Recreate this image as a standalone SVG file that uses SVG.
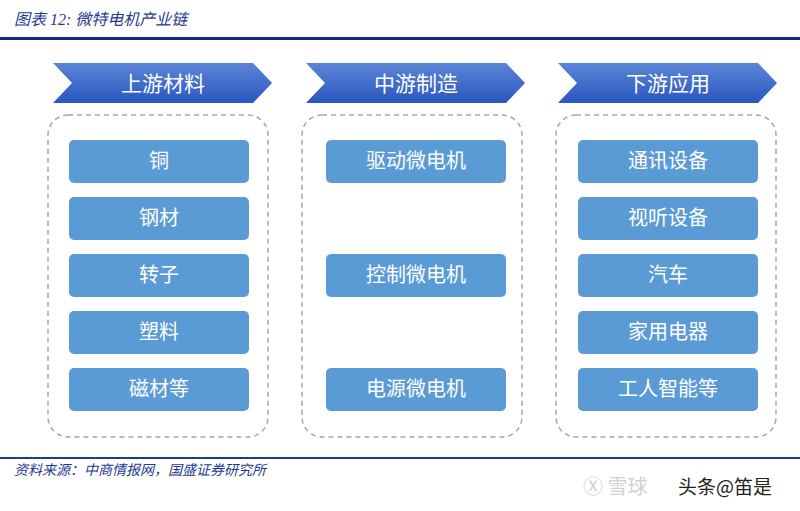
<svg xmlns="http://www.w3.org/2000/svg" width="800" height="511" viewBox="0 0 800 511">
<defs>
<linearGradient id="g" x1="0" y1="0" x2="0" y2="1"><stop offset="0" stop-color="#5b86d6"/><stop offset="1" stop-color="#2a56c0"/></linearGradient>
<style>
.t{font-family:"Noto Sans CJK SC",sans-serif;}
.hd{fill:url(#g);}
.hdt{fill:#fff;font-size:21px;text-anchor:middle;font-family:"Noto Sans CJK SC",sans-serif;}
.dash{fill:none;stroke:#a6a6a6;stroke-width:1.5;stroke-dasharray:5,4;}
.box{fill:#5b9bd5;}
.bt{fill:#fff;font-size:20px;text-anchor:middle;font-family:"Noto Sans CJK SC",sans-serif;}
.it{fill:#1f3a93;font-style:italic;font-family:"Liberation Serif","Noto Sans CJK SC",serif;}
</style>
</defs>
<rect width="800" height="511" fill="#fff"/>
<text class="it" x="14" y="25" font-size="16">图表 12:  微特电机产业链</text>
<rect x="0" y="37" width="800" height="3" fill="#0e2a8a"/>
<g id="col1">
<polygon class="hd" points="53,63 253,63 272,83 253,103 53,103 72,83"/>
<text class="hdt" x="163" y="91">上游材料</text>
<rect class="dash" x="48" y="115" width="220" height="322" rx="20"/>
</g>
<g id="col2">
<polygon class="hd" points="306,63 506,63 525,83 506,103 306,103 325,83"/>
<text class="hdt" x="416" y="91">中游制造</text>
<rect class="dash" x="302" y="115" width="220" height="322" rx="20"/>
</g>
<g id="col3">
<polygon class="hd" points="558,63 758,63 777,83 758,103 558,103 577,83"/>
<text class="hdt" x="668" y="91">下游应用</text>
<rect class="dash" x="556" y="115" width="220" height="322" rx="20"/>
</g>
<g id="n1"><rect class="box" x="69" y="140" width="180" height="43" rx="5"/><text class="bt" x="159" y="168">铜</text></g>
<g id="n2"><rect class="box" x="69" y="197" width="180" height="43" rx="5"/><text class="bt" x="159" y="225">钢材</text></g>
<g id="n3"><rect class="box" x="69" y="254" width="180" height="43" rx="5"/><text class="bt" x="159" y="282">转子</text></g>
<g id="n4"><rect class="box" x="69" y="311" width="180" height="43" rx="5"/><text class="bt" x="159" y="339">塑料</text></g>
<g id="n5"><rect class="box" x="69" y="368" width="180" height="43" rx="5"/><text class="bt" x="159" y="396">磁材等</text></g>
<g id="m1"><rect class="box" x="326" y="140" width="180" height="43" rx="5"/><text class="bt" x="416" y="168">驱动微电机</text></g>
<g id="m2"><rect class="box" x="326" y="254" width="180" height="43" rx="5"/><text class="bt" x="416" y="282">控制微电机</text></g>
<g id="m3"><rect class="box" x="326" y="368" width="180" height="43" rx="5"/><text class="bt" x="416" y="396">电源微电机</text></g>
<g id="d1"><rect class="box" x="578" y="140" width="180" height="43" rx="5"/><text class="bt" x="668" y="168">通讯设备</text></g>
<g id="d2"><rect class="box" x="578" y="197" width="180" height="43" rx="5"/><text class="bt" x="668" y="225">视听设备</text></g>
<g id="d3"><rect class="box" x="578" y="254" width="180" height="43" rx="5"/><text class="bt" x="668" y="282">汽车</text></g>
<g id="d4"><rect class="box" x="578" y="311" width="180" height="43" rx="5"/><text class="bt" x="668" y="339">家用电器</text></g>
<g id="d5"><rect class="box" x="578" y="368" width="180" height="43" rx="5"/><text class="bt" x="668" y="396">工人智能等</text></g>
<g id="connectors"></g>
<rect x="0" y="457" width="800" height="2" fill="#1f3a93"/>
<text class="it" x="14" y="475" font-size="14">资料来源：中商情报网，国盛证券研究所</text>
<text class="t" x="583" y="494" font-size="20" fill="#d0d0d0">Ⓧ 雪球</text>
<text class="t" x="678" y="494" font-size="19" fill="#222">头条@笛是</text>
</svg>
